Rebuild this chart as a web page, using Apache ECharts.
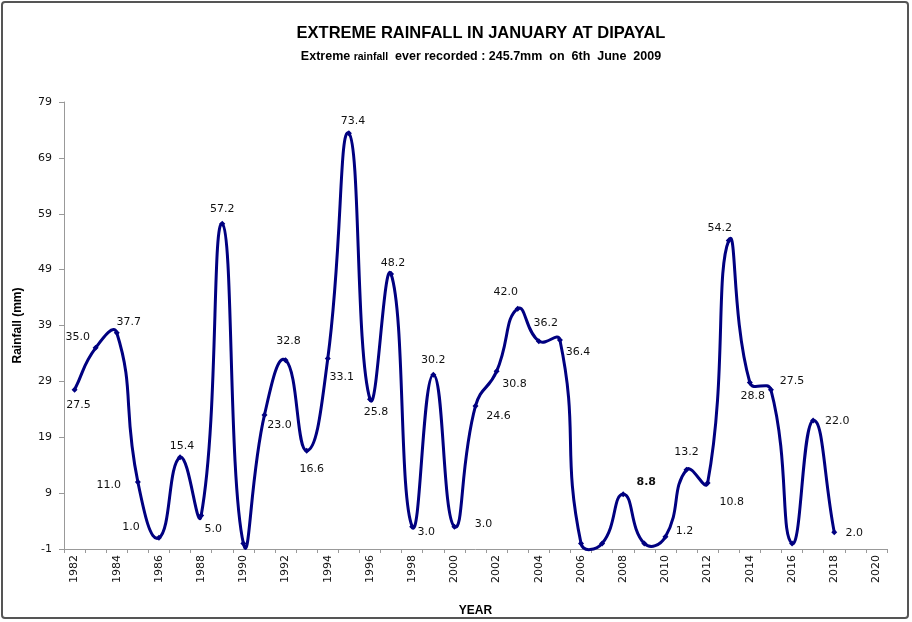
<!DOCTYPE html>
<html>
<head>
<meta charset="utf-8">
<script src="https://cdn.jsdelivr.net/npm/echarts@6/dist/echarts.min.js"></script>
<style>
  html, body { margin: 0; padding: 0; background: #fff; }
  #main { width: 912px; height: 622px; }
</style>
</head>
<body>
<div id="main"></div>
<script>
// years on the x axis (category), rainfall values for 1982..2018
var years = [];
for (var y = 1982; y <= 2020; y++) years.push(String(y));

var rainfall = [27.5, 35.0, 37.7, 11.0, 1.0, 15.4, 5.0, 57.2, 0, 23.0,
  32.8, 16.6, 33.1, 73.4, 25.8, 48.2, 3.0, 30.2, 3.0, 24.6,
  30.8, 42.0, 36.2, 36.4, 0, 0, 8.8, 0, 1.2, 13.2,
  10.8, 54.2, 28.8, 27.5, 0, 22.0, 2.0];

var yTicks = [-1, 9, 19, 29, 39, 49, 59, 69, 79];

// where each value label sits relative to its point [dx, dy]
var labelOffsets = [[4, 15], [-18, -11], [12, -11], [-29, 3], [-28, -11], [2, -11], [12, 14], [0, -15], [0, 0], [15, 10],
  [3, -19], [5, 18], [14, 19], [4, -12], [6, 13], [2, -11], [14, 5], [0, -15], [29, -3], [23, 10],
  [18, 13], [-12, -17], [7, -18], [18, 12], [0, 0], [0, 0], [23, -12], [0, 0], [19, -6], [0, -18],
  [24, 19], [-9, -12], [3, 14], [21, -9], [0, 0], [24, 1], [20, 1]];

var seriesData = rainfall.map(function (v, i) {
  return {
    value: v,
    label: {
      show: v !== 0,
      position: 'inside',
      offset: labelOffsets[i],
      fontWeight: i === 26 ? 'bold' : 'normal'
    }
  };
});

// excel-like smoothed segment between point i and i+1
function renderSegment(params, api) {
  var i = params.dataIndex;
  var n = rainfall.length;
  if (i >= n - 1) return null;
  var pt = function (k) { return api.coord([k, rainfall[k]]); };
  var p1 = pt(i), p2 = pt(i + 1);
  var p0 = i > 0 ? pt(i - 1) : p1;
  var p3 = i + 2 < n ? pt(i + 2) : p2;
  var dist = function (a, b) { return Math.sqrt((a[0] - b[0]) * (a[0] - b[0]) + (a[1] - b[1]) * (a[1] - b[1])); };
  var d01 = dist(p0, p1), d12 = dist(p1, p2), d23 = dist(p2, p3);
  var t = 0.5;
  var f1 = t * d12 / (d01 + d12);
  var f2 = t * d12 / (d12 + d23);
  return {
    type: 'bezierCurve',
    shape: {
      x1: p1[0], y1: p1[1],
      x2: p2[0], y2: p2[1],
      cpx1: p1[0] + (p2[0] - p0[0]) * f1,
      cpy1: p1[1] + (p2[1] - p0[1]) * f1,
      cpx2: p2[0] - (p3[0] - p1[0]) * f2,
      cpy2: p2[1] - (p3[1] - p1[1]) * f2
    },
    style: { stroke: '#000080', lineWidth: 3, fill: null, lineCap: 'round' }
  };
}

var chart = echarts.init(document.getElementById('main'));

var option = {
  backgroundColor: '#fff',
  animation: false,
  title: {
    text: 'EXTREME RAINFALL IN JANUARY AT DIPAYAL',
    subtext: '{b|Extreme }{s|rainfall}{b|  ever recorded : 245.7mm  on  6th  June  2009}',
    left: 476,
    textAlign: 'center',
    top: 20,
    itemGap: 6,
    textStyle: { fontFamily: 'Liberation Sans', fontSize: 16.5, fontWeight: 'bold', color: '#000' },
    subtextStyle: {
      rich: {
        b: { fontFamily: 'Liberation Sans', fontSize: 12.5, fontWeight: 'bold', color: '#000', lineHeight: 15, verticalAlign: 'bottom' },
        s: { fontFamily: 'Liberation Sans', fontSize: 10.5, fontWeight: 'bold', color: '#000', lineHeight: 15, verticalAlign: 'bottom', padding: [3, 0, 0, 0] }
      }
    }
  },
  graphic: [{
    type: 'rect',
    shape: { x: 2, y: 2, width: 906, height: 616, r: 3 },
    style: { fill: 'none', stroke: '#555', lineWidth: 2 },
    silent: true
  }],
  grid: { left: 64, right: 25, top: 102, bottom: 72 },
  xAxis: {
    type: 'category',
    data: years,
    boundaryGap: true,
    name: 'YEAR',
    nameLocation: 'middle',
    nameGap: 56,
    nameTextStyle: { fontFamily: 'Liberation Sans', fontSize: 12, fontWeight: 'bold', color: '#000' },
    axisLine: { onZero: false, lineStyle: { color: '#999', width: 1 } },
    axisTick: { show: true, interval: 0, length: 4, lineStyle: { color: '#999' } },
    axisLabel: {
      interval: 1, rotate: 90, margin: 6,
      fontFamily: 'DejaVu Sans', fontSize: 11, color: '#111'
    },
    splitLine: { show: false }
  },
  yAxis: {
    type: 'value',
    min: yTicks[0],
    max: yTicks[yTicks.length - 1],
    interval: 10,
    name: 'Rainfall (mm)',
    nameLocation: 'middle',
    nameGap: 40,
    nameTextStyle: { fontFamily: 'Liberation Sans', fontSize: 12, fontWeight: 'bold', color: '#000' },
    axisLine: { show: true, lineStyle: { color: '#999', width: 1 } },
    axisTick: { show: true, length: 5, lineStyle: { color: '#999' } },
    axisLabel: { margin: 12, fontFamily: 'DejaVu Sans', fontSize: 11, color: '#111' },
    splitLine: { show: false }
  },
  series: [{
    type: 'custom',
    renderItem: renderSegment,
    data: rainfall.map(function (v, i) { return [i, v]; }),
    encode: { x: 0, y: 1 },
    clip: false,
    z: 2
  }, {
    type: 'line',
    data: seriesData,
    symbol: 'diamond',
    symbolSize: 6,
    lineStyle: { opacity: 0 },
    itemStyle: { color: '#000080' },
    z: 3,
    label: {
      fontFamily: 'DejaVu Sans',
      fontSize: 11,
      color: '#111',
      formatter: function (p) { return p.value.toFixed(1); }
    }
  }]
};

chart.setOption(option);
</script>
</body>
</html>
